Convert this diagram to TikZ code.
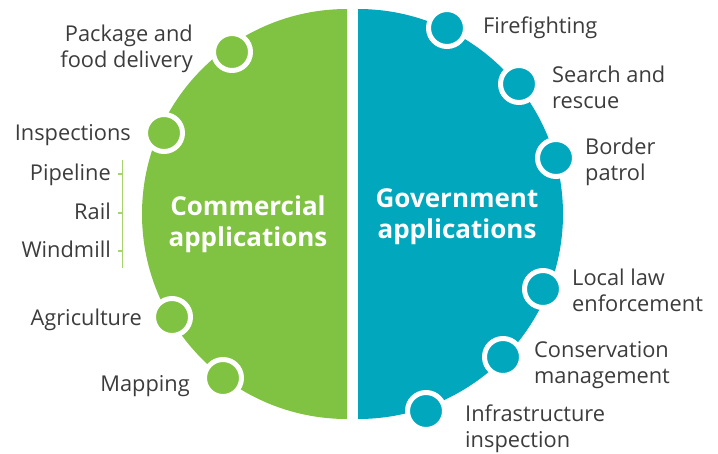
\documentclass[tikz,border=0pt]{standalone}
\usepackage{fontspec}
\setmainfont{Open Sans}
\usepackage{xcolor}
\usepackage{tikz}

\definecolor{comgreen}{HTML}{80C241}
\definecolor{govteal}{HTML}{00A7BD}
\definecolor{labgray}{HTML}{3C3C3C}
\definecolor{tickgreen}{HTML}{A5D46F}

\tikzset{
  dot/.style={circle, fill=#1, draw=white, line width=5pt, minimum size=37pt, inner sep=0pt},
  applab/.style={text=labgray, font=\fontsize{21.8}{26}\selectfont, inner sep=0pt},
  bigtext/.style={text=white, font=\fontsize{26}{31}\selectfont\bfseries, align=center, inner sep=0pt},
  bracket/.style={tickgreen, line width=1.5pt}
}

\begin{document}
\begin{tikzpicture}[x=1pt, y=-1pt]
		\useasboundingbox (0,0) rectangle (718,453);
		
		\fill[comgreen] (347,9) arc[start angle=-90, end angle=-270, radius=205] -- cycle;
		\fill[govteal] (358,9) arc[start angle=-90, end angle=90, radius=205] -- cycle;
		
		\node[bigtext] (commercial) at (248,224) {Commercial\\applications};
		\node[bigtext] (government) at (457,217) {Government\\applications};
		
		\node[dot=comgreen] (dpkg) at (232,52) {};
		\node[dot=comgreen] (dinsp) at (164,133) {};
		\node[dot=comgreen] (dagri) at (172,317) {};
		\node[dot=comgreen] (dmap) at (223,378) {};
		
		\node[dot=govteal] (dfire) at (447,28) {};
		\node[dot=govteal] (dsearch) at (519,84) {};
		\node[dot=govteal] (dborder) at (556,158) {};
		\node[dot=govteal] (dlaw) at (543,289) {};
		\node[dot=govteal] (dcons) at (503,357) {};
		\node[dot=govteal] (dinfra) at (426,411) {};
		
		% multi-line labels: base is the last line
		\node[applab, anchor=base east, align=right] (lpkg) at (193,67) {Package and\\food delivery};
		\node[applab, anchor=base east] (linsp) at (131,140) {Inspections};
		\node[applab, anchor=base east] (lpipe) at (111,180) {Pipeline};
		\node[applab, anchor=base east] (lrail) at (111,219) {Rail};
		\node[applab, anchor=base east] (lwind) at (111,257) {Windmill};
		\node[applab, anchor=base east] (lagri) at (142,325) {Agriculture};
		\node[applab, anchor=base east] (lmap) at (190,391) {Mapping};
		
		\node[applab, anchor=base west] (lfire) at (483,33) {Firefighting};
		\node[applab, anchor=base west, align=left] (lsearch) at (552,108) {Search and\\rescue};
		\node[applab, anchor=base west, align=left] (lborder) at (585,180) {Border\\patrol};
		\node[applab, anchor=base west, align=left] (llaw) at (572,311) {Local law\\enforcement};
		\node[applab, anchor=base west, align=left] (lcons) at (534,383) {Conservation\\management};
		\node[applab, anchor=base west, align=left] (linfra) at (465,447) {Infrastructure\\inspection};
		
		\draw[bracket] (122.5,160) -- (122.5,268);
		\draw[bracket] (117.5,174) -- (122.5,174);
		\draw[bracket] (117.5,213) -- (122.5,213);
		\draw[bracket] (117.5,251) -- (122.5,251);
	\end{tikzpicture}
\end{document}
